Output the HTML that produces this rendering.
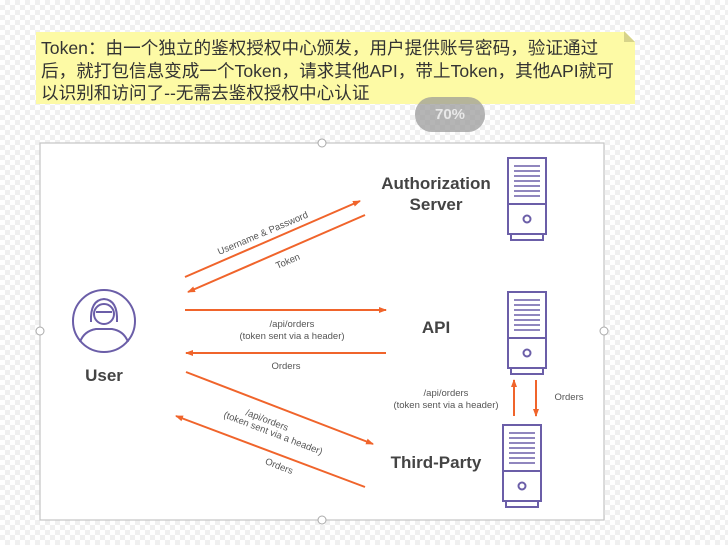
<!DOCTYPE html>
<html><head><meta charset="utf-8"><style>
body{margin:0;width:728px;height:545px;overflow:hidden;position:relative;font-family:"Liberation Sans","Noto Sans CJK SC",sans-serif;
background-color:#fff;background-image:linear-gradient(45deg,#f0f0f0 25%,transparent 25%,transparent 75%,#f0f0f0 75%),linear-gradient(45deg,#f0f0f0 25%,transparent 25%,transparent 75%,#f0f0f0 75%);background-size:10px 10px;background-position:0 0,5px 5px}
.note{position:absolute;left:36px;top:32px;width:599px;height:72px;background:#fdfaa5;}
.note p{margin:0;padding:5px 0 0 5px;font-size:17.6px;line-height:22.5px;color:#333;white-space:nowrap}
.pill{position:absolute;left:415px;top:97px;width:70px;height:35px;border-radius:17px;background:rgba(150,150,150,.7);color:#e8e8e8;font-weight:bold;font-size:15px;text-align:center;line-height:35px}
</style></head><body>
<div class="note"><p>Token：由一个独立的鉴权授权中心颁发，用户提供账号密码，验证通过<br>后，就打包信息变成一个Token，请求其他API，带上Token，其他API就可<br>以识别和访问了--无需去鉴权授权中心认证</p></div>
<svg style="position:absolute;left:0;top:0" width="728" height="545">
<polygon points="624,31 635,31 635,42" fill="#fff"/><polygon points="624,31 635,42 624,42" fill="#d6d38a"/>
<rect x="40" y="143" width="564" height="377" fill="#fff" stroke="#c4c4c4" stroke-width="1.2"/>
<g fill="#fff" stroke="#aaa"><circle cx="322" cy="143" r="4"/><circle cx="322" cy="520" r="4"/><circle cx="40" cy="331" r="4"/><circle cx="604" cy="331" r="4"/></g>
<defs><marker id="a" markerWidth="8" markerHeight="8" refX="7" refY="4" orient="auto" markerUnits="userSpaceOnUse"><path d="M0,1 L8,4 L0,7z" fill="#f0642b"/></marker></defs>
<g stroke="#f0642b" stroke-width="2" marker-end="url(#a)">
<line x1="185" y1="277" x2="360" y2="201"/><line x1="365" y1="215" x2="188" y2="292"/>
<line x1="185" y1="310" x2="386" y2="310"/><line x1="386" y1="353" x2="186" y2="353"/>
<line x1="186" y1="372" x2="373" y2="444"/><line x1="365" y1="487" x2="176" y2="416"/>
<line x1="514" y1="416" x2="514" y2="380"/><line x1="536" y1="380" x2="536" y2="416"/>
</g>
<g fill="#555" font-size="9.5" text-anchor="middle">
<text transform="translate(264,236) rotate(-23)">Username &amp; Password</text>
<text transform="translate(289,264) rotate(-23)">Token</text>
<text x="292" y="327">/api/orders</text><text x="292" y="339">(token sent via a header)</text>
<text x="286" y="369">Orders</text>
<text x="446" y="396">/api/orders</text><text x="446" y="408">(token sent via a header)</text>
<text x="569" y="400">Orders</text>
<text transform="translate(266,423) rotate(21)">/api/orders</text>
<text transform="translate(272,436) rotate(21)">(token sent via a header)</text>
<text transform="translate(278,469) rotate(21)">Orders</text>
</g>
<g fill="#444" font-weight="bold" font-size="17" text-anchor="middle">
<text x="436" y="189">Authorization</text><text x="436" y="210">Server</text>
<text x="436" y="333">API</text><text x="436" y="468">Third-Party</text><text x="104" y="381">User</text>
</g>
<g fill="none" stroke="#6b5ea8" stroke-width="2">
<circle cx="104" cy="321" r="31"/>
<circle cx="104" cy="314" r="10"/><path d="M91,322 Q90,300 104,299 Q118,300 117,322"/>
<path d="M80,342 Q84,331 96,329 L112,329 Q124,331 128,342"/><line x1="96" y1="312" x2="112" y2="312"/>
<g id="s"><rect x="508" y="158" width="38" height="76"/><line x1="508" y1="204" x2="546" y2="204"/><circle cx="527" cy="219" r="3.5"/><rect x="511" y="234" width="32" height="6"/>
<path d="M514,166h26M514,171h26M514,176h26M514,181h26M514,186h26M514,191h26M514,196h26" stroke-width="1.5"/></g>
<use href="#s" transform="translate(0,134)"/><use href="#s" transform="translate(-5,267)"/>
</g>
</svg>
<div class="pill">70%</div>
</body></html>
